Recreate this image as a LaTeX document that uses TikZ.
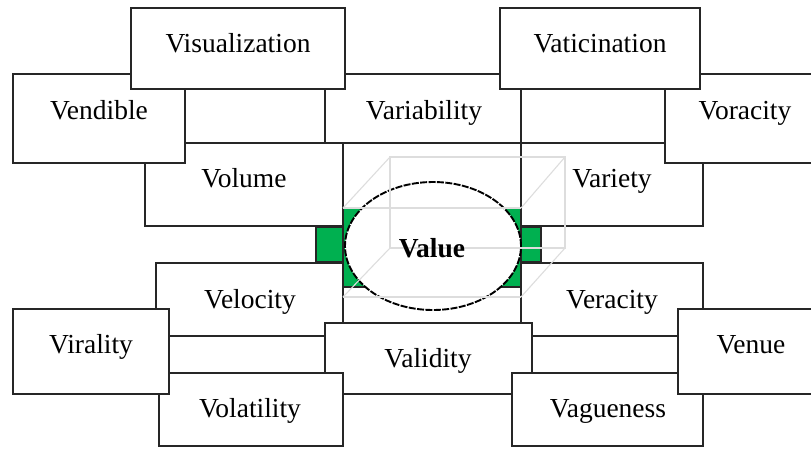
\documentclass[tikz,border=0pt]{standalone}
\usepackage{fontspec}
\setmainfont{Liberation Serif}
\usetikzlibrary{shapes.geometric}
\definecolor{offgreen}{HTML}{00B050}
\definecolor{cubegray}{HTML}{DDDDDD}
\tikzset{
  vbox/.style={draw=black!85, line width=1.8pt, fill=white, inner sep=0pt, outer sep=0pt},
  lbl/.style={anchor=base, inner sep=0pt, font=\fontsize{27.5}{33}\selectfont},
  cube/.style={draw=cubegray, line width=1.1pt},
  gsq/.style={draw=black!85, line width=1.8pt, fill=offgreen, inner sep=0pt, outer sep=0pt}
}
\newcommand{\vb}[5]{% name, x1, y1, x2, y2
  \node[vbox, minimum width={(#4-#2)*1pt}, minimum height={(#5-#3)*1pt}] (#1) at ({(#2+#4)/2},{(#3+#5)/2}) {};
}
\begin{document}
\begin{tikzpicture}[x=1pt,y=-1pt]
\useasboundingbox[fill=white] (0,0) rectangle (811,448);
% top half, back to front
\vb{variability}{325}{74}{521}{143}
\vb{volume}{145}{143}{343}{226}
\vb{variety}{521}{143}{703}{226}
\vb{vendible}{13}{74}{185}{163}
\vb{voracity}{665}{74}{826}{163}
\vb{visualization}{131}{8}{345}{89}
\vb{vaticination}{500}{8}{700}{89}
% bottom half, back to front
\vb{velocity}{156}{263}{343}{336}
\vb{veracity}{521}{263}{703}{336}
\vb{validity}{325}{323}{532}{394}
\vb{volatility}{159}{373}{343}{446}
\vb{vagueness}{512}{373}{703}{446}
\vb{virality}{13}{309}{169}{394}
\vb{venue}{678}{309}{826}{394}
% centre
\fill[offgreen] (343,209) rectangle (521,287);
\draw[black!85, line width=1.8pt] (343,287) -- (521,287);
\draw[black!85, line width=1.8pt] (343,209) -- (343,287) (521,209) -- (521,287);
\vb{gl}{316}{227}{343}{262}
\path[gsq] (gl.south west) rectangle (gl.north east);
\vb{gr}{521}{227}{541}{262}
\path[gsq] (gr.south west) rectangle (gr.north east);
\node[ellipse, draw=black, line width=1.9pt, dash pattern=on 7pt off 1.4pt, fill=white,
      minimum width=176pt, minimum height=128pt, inner sep=0pt] (value) at (433,246) {};
% cube wireframe
\coordinate (f1) at (343,208); \coordinate (f2) at (521,208);
\coordinate (f3) at (521,297); \coordinate (f4) at (343,297);
\coordinate (b1) at (390,157); \coordinate (b2) at (565,157);
\coordinate (b3) at (565,248); \coordinate (b4) at (390,248);
\draw[cube] (f1) -- (f2) (f4) -- (f3);
\draw[cube] (b1) -- (b2) -- (b3) -- (b4) -- cycle;
\draw[cube] (f1) -- (b1) (f2) -- (b2) (f3) -- (b3) (f4) -- (b4);
% labels
\node[lbl] (t-visualization) at (238,52) {Visualization};
\node[lbl] (t-vaticination) at (600,52) {Vaticination};
\node[lbl] (t-vendible) at (99,119) {Vendible};
\node[lbl] (t-variability) at (424,119) {Variability};
\node[lbl] (t-voracity) at (745,119) {Voracity};
\node[lbl] (t-volume) at (244,187) {Volume};
\node[lbl] (t-variety) at (612,187) {Variety};
\node[lbl, font=\fontsize{27.5}{33}\selectfont\bfseries] (t-value) at (432,257) {Value};
\node[lbl] (t-velocity) at (250,308) {Velocity};
\node[lbl] (t-veracity) at (612,308) {Veracity};
\node[lbl] (t-virality) at (91,353) {Virality};
\node[lbl] (t-venue) at (751,353) {Venue};
\node[lbl] (t-validity) at (428,367) {Validity};
\node[lbl] (t-volatility) at (250,417) {Volatility};
\node[lbl] (t-vagueness) at (608,417) {Vagueness};
\end{tikzpicture}
\end{document}
